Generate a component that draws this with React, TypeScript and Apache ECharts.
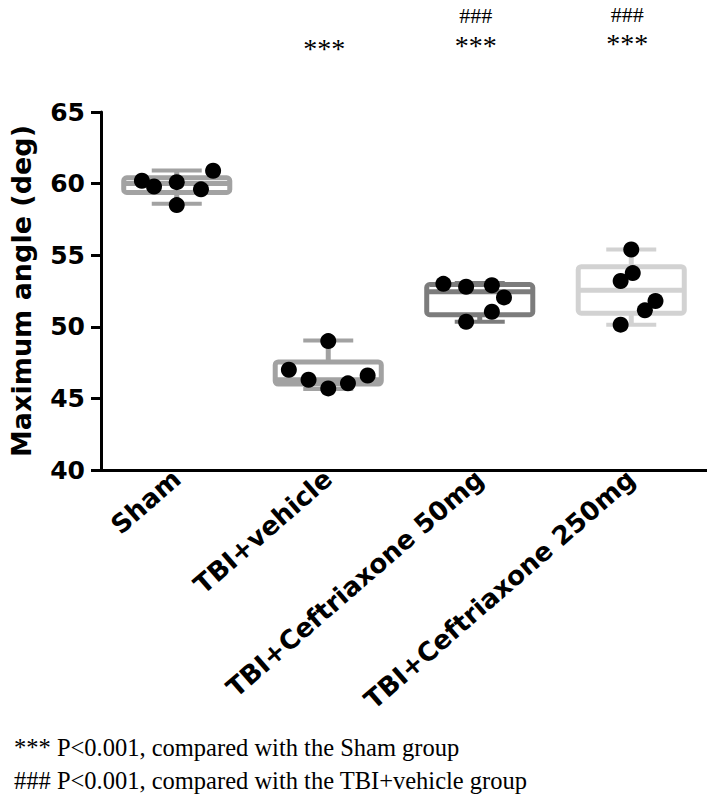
import React, { useEffect, useRef } from "react";
import * as echarts from "echarts";

const categories = ["Sham", "TBI+vehicle", "TBI+Ceftriaxone 50mg", "TBI+Ceftriaxone 250mg"];

// box statistics
const whiskerLow = [58.6, 45.65, 50.35, 50.15];
const quart1 = [59.38, 46.0, 50.85, 50.95];
const medians = [60.0, 46.3, 52.45, 52.55];
const quart3 = [60.4, 47.55, 52.95, 54.2];
const whiskerHigh = [60.92, 49.05, 53.05, 55.4];

// individual animals
const shamValues = [60.2, 59.8, 60.1, 58.5, 59.6, 60.9];
const vehicleValues = [47.0, 46.3, 45.7, 46.05, 46.6, 49.0];
const cef50Values = [53.0, 52.8, 52.9, 52.05, 51.05, 50.35];
const cef250Values = [55.4, 53.75, 53.2, 51.8, 51.15, 50.15];
const groupValues = [shamValues, vehicleValues, cef50Values, cef250Values];

// horizontal scatter of the dots within a group (in category widths)
const shamJitter = [-0.23, -0.15, 0, 0, 0.16, 0.24];
const vehicleJitter = [-0.26, -0.13, 0, 0.13, 0.26, 0];
const cef50Jitter = [-0.24, -0.09, 0.08, 0.16, 0.08, -0.09];
const cef250Jitter = [0, 0.01, -0.07, 0.16, 0.09, -0.07];
const groupJitter = [shamJitter, vehicleJitter, cef50Jitter, cef250Jitter];

const vsSham = ["", "***", "***", "***"];
const vsVehicle = ["", "", "###", "###"];

const footnotes = [
  "*** P<0.001, compared with the Sham group",
  "### P<0.001, compared with the TBI+vehicle group",
];

const yMin = 40;
const yMax = 65;
const yInterval = 5;

// layout of the significance marks (pixels from top)
const starRowY = [0, 48, 45, 43];
const hashRowY = [0, 0, 15, 14];

const boxColors = ["#a2a2a2", "#a2a2a2", "#7c7c7c", "#d2d2d2"];
const axisFont = "DejaVu Sans";

export default function App() {
  const ref = useRef<HTMLDivElement>(null);

  useEffect(() => {
    document.body.style.margin = "0";
    if (!ref.current) return;
    const chart = echarts.init(ref.current, undefined, { renderer: "svg" });

    const boxData = categories.map((_, i) => [
      i,
      whiskerLow[i],
      quart1[i],
      medians[i],
      quart3[i],
      whiskerHigh[i],
    ]);

    const dots: number[][] = [];
    groupValues.forEach((vals, i) => {
      vals.forEach((v, j) => dots.push([i + groupJitter[i][j], v]));
    });

    const option: any = {
      animation: false,
      backgroundColor: "#fff",
      grid: { left: 98, right: 0, top: 112, bottom: 326, containLabel: false },
      xAxis: [
        {
          type: "category",
          data: categories,
          boundaryGap: true,
          axisLine: { onZero: false, lineStyle: { color: "#000", width: 3 } },
          axisTick: { alignWithLabel: true, length: 10, lineStyle: { color: "#000", width: 3 } },
          axisLabel: {
            rotate: 41,
            interval: 0,
            margin: 5,
            color: "#000",
            fontFamily: axisFont,
            fontWeight: "bold",
            fontSize: 26,
          },
        },
        {
          type: "value",
          min: -0.5,
          max: 3.5,
          show: false,
        },
      ],
      yAxis: {
        type: "value",
        min: yMin,
        max: yMax,
        interval: yInterval,
        name: "Maximum angle (deg)",
        nameLocation: "middle",
        nameGap: 66,
        nameTextStyle: {
          color: "#000",
          fontFamily: axisFont,
          fontWeight: "bold",
          fontSize: 27,
        },
        axisLine: { show: true, onZero: false, lineStyle: { color: "#000", width: 3 } },
        axisTick: { show: true, length: 10, lineStyle: { color: "#000", width: 3 } },
        splitLine: { show: false },
        axisLabel: {
          margin: 16,
          color: "#000",
          fontFamily: axisFont,
          fontWeight: "bold",
          fontSize: 25,
        },
      },
      series: [
        {
          type: "custom",
          xAxisIndex: 0,
          yAxisIndex: 0,
          data: boxData,
          z: 2,
          renderItem: (params: any, api: any) => {
            const idx = api.value(0);
            const pLow = api.coord([idx, api.value(1)]);
            const pQ1 = api.coord([idx, api.value(2)]);
            const pMed = api.coord([idx, api.value(3)]);
            const pQ3 = api.coord([idx, api.value(4)]);
            const pHigh = api.coord([idx, api.value(5)]);
            const band = api.coord([1, api.value(3)])[0] - api.coord([0, api.value(3)])[0];
            const boxHalf = band * 0.35;
            const capHalf = band * 0.165;
            const cx = pMed[0];
            const color = boxColors[idx];
            const lw = 5;
            return {
              type: "group",
              children: [
                {
                  type: "line",
                  shape: { x1: cx, y1: pHigh[1], x2: cx, y2: pQ3[1] },
                  style: { stroke: color, lineWidth: lw },
                },
                {
                  type: "line",
                  shape: { x1: cx, y1: pQ1[1], x2: cx, y2: pLow[1] },
                  style: { stroke: color, lineWidth: lw },
                },
                {
                  type: "line",
                  shape: { x1: cx - capHalf, y1: pHigh[1], x2: cx + capHalf, y2: pHigh[1] },
                  style: { stroke: color, lineWidth: 4 },
                },
                {
                  type: "line",
                  shape: { x1: cx - capHalf, y1: pLow[1], x2: cx + capHalf, y2: pLow[1] },
                  style: { stroke: color, lineWidth: 4 },
                },
                {
                  type: "rect",
                  shape: {
                    x: cx - boxHalf,
                    y: pQ3[1],
                    width: boxHalf * 2,
                    height: pQ1[1] - pQ3[1],
                    r: 3,
                  },
                  style: { fill: "#fff", stroke: color, lineWidth: lw },
                },
                {
                  type: "line",
                  shape: { x1: cx - boxHalf, y1: pMed[1], x2: cx + boxHalf, y2: pMed[1] },
                  style: { stroke: color, lineWidth: lw },
                },
              ],
            };
          },
        },
        {
          type: "scatter",
          xAxisIndex: 1,
          yAxisIndex: 0,
          data: dots,
          symbol: "circle",
          symbolSize: 16,
          z: 5,
          itemStyle: { color: "#000", opacity: 1 },
        },
      ],
    };

    chart.setOption(option);

    const graphics: any[] = [];
    categories.forEach((_, i) => {
      const x = chart.convertToPixel({ xAxisIndex: 1 }, i) as number;
      if (vsSham[i]) {
        graphics.push({
          type: "text",
          x: x - 4,
          y: starRowY[i],
          style: {
            text: vsSham[i],
            fontFamily: "Liberation Serif",
            fontSize: 28,
            fill: "#000",
            textAlign: "center",
            textVerticalAlign: "middle",
          },
        });
      }
      if (vsVehicle[i]) {
        graphics.push({
          type: "text",
          x: x - 4,
          y: hashRowY[i],
          style: {
            text: vsVehicle[i],
            fontFamily: "Liberation Serif",
            fontSize: 22,
            fill: "#000",
            textAlign: "center",
            textVerticalAlign: "middle",
          },
        });
      }
    });
    footnotes.forEach((t, k) => {
      graphics.push({
        type: "text",
        x: 14,
        y: 747 + k * 33,
        style: {
          text: t,
          fontFamily: "Liberation Serif",
          fontSize: 24.5,
          fill: "#000",
          textAlign: "left",
          textVerticalAlign: "middle",
        },
      });
    });
    chart.setOption({ graphic: graphics });

    return () => chart.dispose();
  }, []);

  return <div ref={ref} style={{ width: 707, height: 796 }} />;
}
